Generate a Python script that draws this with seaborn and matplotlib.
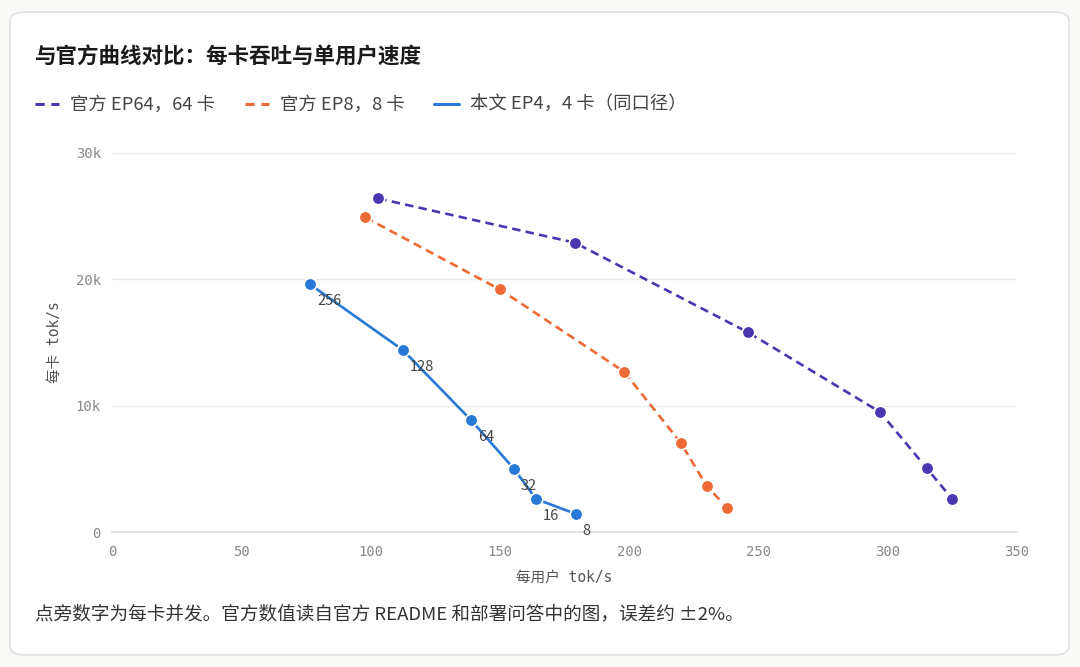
import numpy as np
import pandas as pd
import seaborn as sns
from matplotlib import pyplot as plt
from matplotlib.patches import FancyBboxPatch
from matplotlib.lines import Line2D
from matplotlib.ticker import FuncFormatter

# values
ep64_user = [103, 179, 246, 297, 315, 325]
ep64_card = [26400, 22900, 15800, 9500, 5070, 2600]
ep8_user = [98, 150, 198, 220, 230, 238]
ep8_card = [24900, 19200, 12700, 7050, 3640, 1900]
ours_user = [76.6, 112.5, 138.8, 155.5, 164, 179.4]
ours_card = [19600, 14400, 8870, 4990, 2610, 1430]
ours_conc = [256, 128, 64, 32, 16, 8]

names = ['官方 EP64，64 卡', '官方 EP8，8 卡', '本文 EP4，4 卡（同口径）']
colors = ['#4a36b0', '#ee6a35', '#2878d8']

df = pd.concat([
    pd.DataFrame({'user': ep64_user, 'card': ep64_card, 'series': names[0]}),
    pd.DataFrame({'user': ep8_user, 'card': ep8_card, 'series': names[1]}),
    pd.DataFrame({'user': ours_user, 'card': ours_card, 'series': names[2]}),
], ignore_index=True)

sns.set_theme(style='white')
plt.rcParams['font.family'] = ['Noto Sans CJK SC', 'DejaVu Sans']
mono = ['DejaVu Sans Mono', 'Noto Sans CJK SC']

fig = plt.figure(figsize=(10.8, 6.67), dpi=100, facecolor='#f9f9f7')
card = FancyBboxPatch((10 / 1080, 12 / 667), 1059 / 1080, 643 / 667,
                      boxstyle='round,pad=0,rounding_size=0.014',
                      transform=fig.transFigure, facecolor='white',
                      edgecolor='#e2e2e2', linewidth=1.2, zorder=0)
fig.patches.append(card)

ax = fig.add_axes([112 / 1080, 135 / 667, 905 / 1080, 379 / 667])
ax.set_facecolor('none')
ax.set_zorder(2)

palette = dict(zip(names, colors))
dashes = {names[0]: (3.2, 2), names[1]: (3.2, 2), names[2]: ''}
sns.lineplot(data=df, x='user', y='card', hue='series', style='series',
             palette=palette, dashes=dashes, markers={n: 'o' for n in names},
             markersize=9, markeredgecolor='white', markeredgewidth=1.2,
             linewidth=1.9, sort=False, legend=False, ax=ax, zorder=3)

for x, y, c in zip(ours_user, ours_card, ours_conc):
    ax.annotate(str(c), (x, y), xytext=(5, -12), textcoords='offset points',
                ha='left', va='center', fontsize=10.5, color='#444444',
                zorder=4)

ax.set_xlim(0, 350)
ax.set_ylim(0, 30000)
ax.set_xticks(np.arange(0, 351, 50))
ax.set_yticks([0, 10000, 20000, 30000])
ax.yaxis.set_major_formatter(FuncFormatter(lambda v, p: '0' if v == 0 else f'{int(v / 1000)}k'))
ax.grid(axis='y', color='#ececec', linewidth=1)
ax.grid(axis='x', visible=False)
for s in ['top', 'right', 'left']:
    ax.spines[s].set_visible(False)
ax.spines['bottom'].set_color('#dcdce2')
ax.tick_params(axis='y', length=6, color='#e4e4e4', width=1, pad=2, labelcolor='#888888')
ax.tick_params(axis='x', length=0, pad=9, labelcolor='#888888')
for lab in ax.get_xticklabels() + ax.get_yticklabels():
    lab.set_family(mono)
    lab.set_fontsize(10)
ax.set_xlabel('每用户 tok/s', family=mono, fontsize=10.5, color='#555555', labelpad=8)
ax.set_ylabel('每卡 tok/s', family=mono, fontsize=10.5, color='#555555', labelpad=10)

fig.text(35 / 1080, 1 - 57 / 667, '与官方曲线对比：每卡吞吐与单用户速度', fontsize=15.5,
         fontweight='bold', color='#1a1a1a', va='center', ha='left')

handles = [Line2D([], [], color=colors[0], lw=2.2, dashes=(3, 2.2)),
           Line2D([], [], color=colors[1], lw=2.2, dashes=(3, 2.2)),
           Line2D([], [], color=colors[2], lw=2.2)]
leg = fig.legend(handles, names, loc='center left', ncol=3, frameon=False,
                 bbox_to_anchor=(18 / 1080, 1 - 105 / 667), fontsize=13.2,
                 handlelength=1.35, handletextpad=0.6, columnspacing=1.6)
for t in leg.get_texts():
    t.set_color('#444444')

fig.text(35 / 1080, 1 - 614 / 667,
         '点旁数字为每卡并发。官方数值读自官方 README 和部署问答中的图，误差约 ±2%。',
         fontsize=13.4, color='#333333', va='center', ha='left')

fig.savefig('out.png', dpi=100, facecolor=fig.get_facecolor())
